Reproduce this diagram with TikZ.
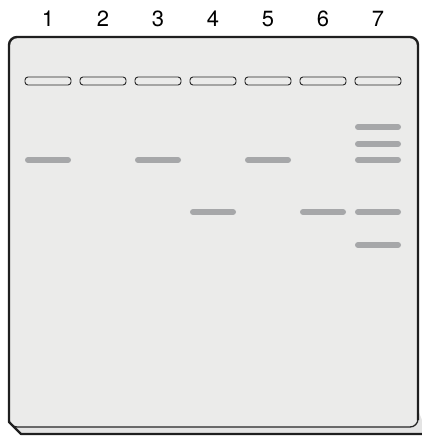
\documentclass[tikz,border=0pt]{standalone}
\usepackage{fontspec}
\setmainfont{TeX Gyre Heros}
\begin{document}
\begin{tikzpicture}[x=1pt,y=-1pt,
  gelline/.style={draw=black!88, line width=2.4pt, line join=round},
  wellbox/.style={draw=black!85, line width=0.9pt, fill=gelfill, rounded corners=3pt},
  band/.style={line width=6pt, draw=bandgray, line cap=round},
  lanelabel/.style={font=\fontsize{22}{22}\selectfont, inner sep=0pt, anchor=base}]
\definecolor{gelfill}{HTML}{EBEBEA}
\definecolor{stripfill}{HTML}{E4E4E4}
\definecolor{bandgray}{HTML}{A6A7A9}
\useasboundingbox (0,0) rectangle (422,436);
% bottom strip / back edge
\fill[stripfill] (9,410) -- (9,422) -- (21,434) -- (422,434) -- (422,420) -- (418,410) -- cycle;
% gel face
\fill[gelfill] (9,45) arc[start angle=180,end angle=270,radius=8] -- (410,37) arc[start angle=270,end angle=360,radius=8] -- (418,419) arc[start angle=0,end angle=90,radius=8] -- (17,427) arc[start angle=90,end angle=180,radius=8] -- cycle;
% front face bottom edge (thin)
\draw[black!85, line width=1.3pt] (9,419) arc[start angle=180,end angle=90,radius=8] -- (410,427) arc[start angle=90,end angle=0,radius=8];
% outer outline
\draw[gelline] (418,420) -- (418,45) arc[start angle=0,end angle=-90,radius=8] -- (17,37) arc[start angle=270,end angle=180,radius=8] -- (9,422) -- (21,434) -- (422,434);
% lane labels and wells
\foreach \k in {1,...,7} {
  \pgfmathsetmacro{\cx}{48+55*(\k-1)}
  \node[lanelabel] (lab\k) at (\cx,27) {\k};
  \node[wellbox, minimum width=46pt, minimum height=8pt, inner sep=0pt] (well\k) at (\cx,81) {};
}
% bands
\foreach \k/\yy in {1/160,3/160,5/160,4/212,6/212,7/127,7/144,7/160,7/212,7/245} {
  \pgfmathsetmacro{\cx}{48+55*(\k-1)}
  \draw[band] (\cx-20,\yy) -- (\cx+20,\yy);
}
\end{tikzpicture}
\end{document}
